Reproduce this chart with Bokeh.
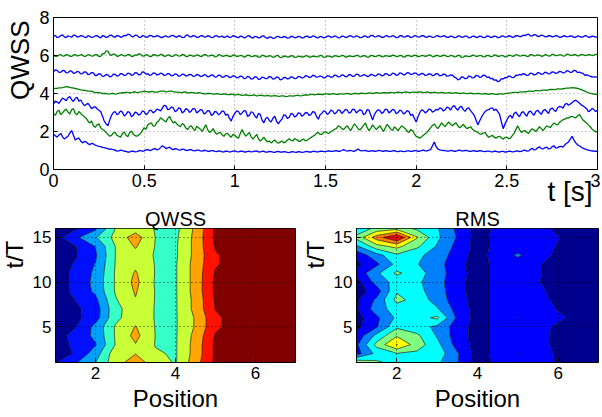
import numpy as np
from bokeh.plotting import figure
from bokeh.layouts import column, row
from bokeh.models import Range1d, FixedTicker, Title
from bokeh.embed import file_html
from bokeh.resources import INLINE

FONT = "Liberation Sans"

# ---------------- top panel data (sampled every 0.01 s from 0 to 3 s) ----------------
T_START, T_END = 0.0, 3.0

line1 = [1.85, 1.78, 1.70, 1.82, 1.90, 1.72, 1.60, 1.68, 1.75, 1.92, 2.05, 1.80, 1.55, 1.62, 1.65, 1.50, 1.40, 1.48, 1.45, 1.36,
         1.30, 1.38, 1.35, 1.28, 1.25, 1.22, 1.20, 1.16, 1.15, 1.12, 1.10, 1.06, 1.08, 1.04, 1.02, 0.97, 0.98, 1.02, 1.00, 0.96,
         0.95, 0.91, 0.92, 0.96, 0.97, 0.93, 0.94, 0.98, 1.00, 0.96, 0.98, 1.03, 1.05, 1.00, 1.02, 1.08, 1.10, 1.04, 1.06, 1.15,
         1.25, 1.18, 1.10, 1.14, 1.18, 1.08, 1.05, 1.10, 1.08, 1.03, 1.02, 1.07, 1.06, 1.01, 1.00, 1.05, 1.04, 0.99, 0.98, 1.02,
         1.02, 0.98, 0.97, 1.01, 1.00, 0.96, 0.95, 0.99, 0.99, 0.95, 0.94, 0.98, 0.97, 0.93, 0.93, 0.97, 0.96, 0.92, 0.94, 0.97,
         0.98, 0.94, 0.93, 0.96, 0.97, 0.93, 0.92, 0.95, 0.96, 0.93, 0.94, 0.97, 0.98, 0.93, 0.92, 0.96, 0.95, 0.91, 0.91, 0.95,
         0.94, 0.91, 0.90, 0.94, 0.95, 0.92, 0.91, 0.94, 0.93, 0.90, 0.89, 0.93, 0.94, 0.91, 0.90, 0.94, 0.93, 0.90, 0.91, 0.94,
         0.95, 0.92, 0.92, 0.95, 0.96, 0.93, 0.93, 0.96, 0.97, 0.94, 0.94, 0.97, 0.98, 0.95, 0.95, 0.98, 0.99, 0.96, 0.96, 1.00,
         1.05, 1.00, 0.97, 0.99, 1.00, 0.97, 0.96, 1.02, 1.08, 1.01, 0.98, 0.99, 1.01, 0.97, 0.95, 0.98, 0.99, 0.96, 0.97, 0.99,
         1.00, 0.97, 0.96, 0.99, 0.98, 0.95, 0.95, 0.98, 0.99, 0.95, 0.94, 0.97, 0.97, 0.94, 0.95, 0.98, 0.98, 0.95, 0.96, 0.99,
         0.99, 0.96, 0.96, 1.00, 1.02, 0.98, 0.98, 1.02, 1.05, 1.25, 1.45, 1.20, 1.08, 1.03, 1.02, 0.99, 1.00, 0.97, 0.97, 1.00,
         0.99, 0.96, 0.96, 1.00, 1.02, 0.98, 0.98, 1.01, 1.00, 0.96, 0.95, 0.98, 0.99, 0.95, 0.96, 0.99, 0.98, 0.95, 0.94, 0.97,
         0.97, 0.94, 0.93, 0.96, 0.96, 0.93, 0.92, 0.95, 0.95, 0.92, 0.93, 0.96, 0.96, 0.93, 0.94, 0.97, 0.98, 0.94, 0.95, 1.00,
         1.02, 0.97, 0.98, 1.06, 1.12, 1.03, 1.05, 1.14, 1.20, 1.10, 1.08, 1.15, 1.18, 1.08, 1.10, 1.20, 1.25, 1.12, 1.15, 1.20,
         1.22, 1.18, 1.30, 1.38, 1.45, 1.60, 1.75, 1.55, 1.40, 1.30, 1.25, 1.18, 1.12, 1.08, 1.05, 1.02, 1.00, 0.97, 0.98, 0.95,
         0.96]

line2 = [2.95, 2.85, 3.05, 3.12, 2.90, 2.98, 3.10, 3.18, 3.02, 2.92, 3.15, 3.20, 2.95, 2.88, 3.05, 2.95, 2.85, 2.78, 2.70, 2.55,
         2.45, 2.55, 2.30, 2.22, 2.35, 2.40, 2.20, 2.12, 2.05, 1.95, 1.85, 1.75, 1.80, 1.92, 1.95, 1.80, 1.75, 1.70, 1.90, 1.98,
         1.80, 1.72, 1.95, 2.02, 1.85, 1.78, 1.75, 1.82, 1.90, 2.05, 2.20, 2.12, 2.35, 2.42, 2.45, 2.28, 2.30, 2.48, 2.55, 2.72,
         2.65, 2.58, 2.50, 2.68, 2.80, 2.60, 2.45, 2.52, 2.40, 2.32, 2.25, 2.42, 2.35, 2.18, 2.10, 2.25, 2.30, 2.15, 2.05, 2.28,
         2.20, 2.12, 2.00, 2.18, 2.35, 2.10, 1.95, 2.02, 2.15, 1.98, 1.85, 1.92, 1.95, 1.82, 1.75, 1.88, 1.90, 1.78, 1.70, 1.85,
         1.80, 1.70, 1.65, 1.90, 2.10, 1.90, 1.75, 1.85, 1.95, 1.72, 1.60, 1.72, 1.85, 1.62, 1.50, 1.58, 1.70, 1.55, 1.45, 1.50,
         1.40, 1.48, 1.55, 1.45, 1.38, 1.44, 1.50, 1.40, 1.45, 1.55, 1.62, 1.54, 1.50, 1.62, 1.58, 1.50, 1.48, 1.56, 1.60, 1.50,
         1.55, 1.62, 1.68, 1.75, 1.80, 1.90, 1.95, 1.85, 1.85, 1.95, 2.00, 1.92, 1.90, 2.00, 2.05, 2.12, 2.15, 2.30, 2.25, 2.15,
         2.10, 2.22, 2.30, 2.15, 2.05, 2.25, 2.40, 2.28, 2.15, 2.08, 2.20, 2.32, 2.45, 2.20, 2.05, 2.18, 2.35, 2.22, 2.10, 2.20,
         2.30, 2.15, 2.00, 2.20, 2.38, 2.25, 2.12, 2.05, 2.25, 2.15, 2.05, 2.18, 2.30, 2.22, 2.15, 2.02, 1.95, 2.10, 2.05, 1.88,
         1.75, 1.70, 1.65, 1.72, 1.80, 1.88, 1.95, 2.08, 2.20, 2.32, 2.40, 2.25, 2.15, 2.30, 2.45, 2.35, 2.25, 2.40, 2.50, 2.38,
         2.30, 2.40, 2.45, 2.30, 2.20, 2.28, 2.38, 2.25, 2.15, 2.20, 2.25, 2.12, 2.05, 2.00, 1.95, 1.88, 1.85, 1.92, 1.95, 1.80,
         1.70, 1.75, 1.80, 1.70, 1.65, 1.72, 1.75, 1.66, 1.60, 1.68, 1.70, 1.62, 1.65, 1.78, 1.90, 2.10, 2.30, 2.10, 1.95, 2.02,
         2.05, 1.95, 1.90, 2.05, 2.15, 2.08, 2.00, 2.12, 2.25, 2.15, 2.05, 2.18, 2.30, 2.25, 2.20, 2.35, 2.45, 2.38, 2.35, 2.48,
         2.55, 2.62, 2.65, 2.72, 2.70, 2.78, 2.80, 2.75, 2.72, 2.82, 2.90, 2.75, 2.60, 2.52, 2.45, 2.35, 2.25, 2.12, 2.05, 1.98,
         2.00]

line3 = [3.45, 3.60, 3.55, 3.48, 3.62, 3.76, 3.70, 3.62, 3.78, 3.84, 3.68, 3.58, 3.75, 3.80, 3.60, 3.66, 3.50, 3.36, 3.42, 3.48,
         3.35, 3.20, 3.28, 3.30, 3.20, 3.12, 3.05, 2.80, 2.55, 2.40, 2.30, 2.60, 2.85, 3.00, 3.05, 2.88, 2.95, 3.08, 3.02, 2.82,
         2.90, 3.05, 3.00, 2.78, 2.85, 3.02, 2.98, 2.86, 2.92, 3.08, 3.05, 2.88, 2.96, 3.12, 3.10, 2.98, 3.05, 3.18, 3.15, 3.08,
         3.22, 3.38, 3.35, 3.15, 3.18, 3.30, 3.25, 3.05, 3.10, 3.24, 3.20, 2.98, 3.05, 3.20, 3.15, 3.00, 3.08, 3.22, 3.18, 2.98,
         3.05, 3.15, 3.12, 2.92, 2.98, 3.10, 3.08, 2.85, 2.90, 3.06, 3.02, 2.88, 2.95, 3.08, 3.05, 2.85, 2.92, 2.70, 2.55, 2.80,
         2.95, 3.08, 3.05, 2.88, 2.98, 3.10, 3.08, 2.80, 2.85, 3.04, 3.00, 2.82, 2.70, 2.95, 2.90, 2.60, 2.45, 2.68, 2.75, 2.58,
         2.50, 2.70, 2.80, 2.55, 2.40, 2.55, 2.65, 2.88, 2.85, 2.68, 2.75, 2.95, 2.92, 2.76, 2.82, 2.98, 2.95, 2.80, 2.88, 3.00,
         2.98, 2.84, 2.90, 3.05, 3.02, 2.80, 2.65, 2.88, 2.95, 3.08, 3.05, 2.90, 2.98, 3.12, 3.08, 2.92, 3.00, 3.14, 3.10, 2.95,
         3.05, 3.16, 3.12, 2.96, 3.02, 3.18, 3.15, 2.98, 3.06, 3.14, 3.10, 2.88, 2.95, 3.15, 3.12, 2.85, 2.60, 2.90, 3.05, 3.14,
         3.10, 2.95, 3.02, 3.18, 3.15, 2.98, 3.05, 3.16, 3.12, 2.94, 3.00, 3.12, 3.08, 2.92, 2.98, 3.10, 3.05, 2.85, 2.90, 2.70,
         2.50, 2.78, 3.00, 3.14, 3.10, 2.98, 3.05, 3.18, 3.15, 3.02, 3.08, 3.16, 3.12, 3.24, 3.20, 3.08, 3.15, 3.28, 3.25, 3.12,
         3.30, 3.36, 3.22, 3.12, 3.28, 3.32, 3.15, 3.06, 3.20, 3.25, 3.10, 2.98, 2.85, 2.60, 2.35, 2.55, 2.75, 2.92, 3.05, 3.12,
         3.15, 3.22, 3.25, 3.10, 3.18, 3.05, 2.90, 2.50, 2.15, 2.40, 2.60, 2.78, 2.85, 2.70, 2.95, 3.02, 2.88, 2.78, 2.98, 3.05,
         2.92, 2.80, 3.02, 3.08, 2.95, 2.86, 3.05, 3.12, 3.00, 2.90, 3.10, 3.16, 3.05, 2.95, 3.18, 3.24, 3.12, 3.05, 3.25, 3.32,
         3.30, 3.22, 3.42, 3.48, 3.38, 3.45, 3.52, 3.60, 3.65, 3.58, 3.50, 3.40, 3.35, 3.28, 3.20, 3.05, 3.10, 3.22, 3.15, 3.05,
         3.12]

line4 = [4.24, 4.27, 4.27, 4.30, 4.30, 4.31, 4.33, 4.36, 4.35, 4.32, 4.30, 4.29, 4.26, 4.25, 4.22, 4.19, 4.18, 4.17, 4.15, 4.12,
         4.12, 4.11, 4.08, 4.05, 4.05, 4.05, 4.03, 4.00, 4.00, 4.00, 3.98, 3.97, 4.00, 4.00, 3.97, 3.98, 4.02, 4.02, 4.04, 4.04,
         4.06, 4.06, 4.03, 4.04, 4.08, 4.08, 4.05, 4.06, 4.09, 4.10, 4.12, 4.11, 4.08, 4.08, 4.11, 4.10, 4.07, 4.07, 4.10, 4.12,
         4.12, 4.12, 4.09, 4.10, 4.13, 4.13, 4.10, 4.08, 4.07, 4.07, 4.05, 4.05, 4.08, 4.07, 4.03, 4.03, 4.06, 4.05, 4.02, 4.02,
         4.04, 4.03, 4.00, 3.98, 3.98, 4.00, 4.01, 3.99, 3.97, 3.97, 3.99, 3.98, 3.95, 3.95, 3.98, 3.97, 3.94, 3.94, 3.96, 3.95,
         3.92, 3.94, 3.95, 3.93, 3.90, 3.91, 3.93, 3.92, 3.89, 3.90, 3.92, 3.91, 3.88, 3.89, 3.91, 3.90, 3.87, 3.88, 3.90, 3.88,
         3.86, 3.88, 3.89, 3.87, 3.85, 3.86, 3.88, 3.87, 3.84, 3.85, 3.87, 3.87, 3.86, 3.88, 3.90, 3.90, 3.88, 3.89, 3.92, 3.92,
         3.91, 3.93, 3.95, 3.95, 3.93, 3.95, 3.97, 3.96, 3.94, 3.96, 3.98, 3.98, 3.96, 3.97, 3.99, 3.98, 3.95, 3.96, 3.98, 3.98,
         3.97, 3.99, 4.00, 3.98, 3.96, 3.98, 4.01, 4.00, 3.98, 4.00, 4.02, 4.01, 3.99, 4.01, 4.03, 4.02, 4.00, 4.02, 4.04, 4.03,
         4.01, 4.03, 4.05, 4.04, 4.02, 4.04, 4.06, 4.05, 4.03, 4.05, 4.07, 4.06, 4.04, 4.06, 4.08, 4.07, 4.05, 4.06, 4.07, 4.07,
         4.06, 4.08, 4.09, 4.07, 4.05, 4.06, 4.08, 4.06, 4.04, 4.05, 4.07, 4.05, 4.03, 4.04, 4.06, 4.04, 4.02, 4.03, 4.05, 4.03,
         4.01, 4.03, 4.04, 4.02, 4.00, 4.01, 4.03, 4.01, 3.99, 4.00, 4.02, 4.00, 3.98, 3.99, 4.01, 3.99, 3.97, 3.98, 4.00, 3.98,
         3.96, 3.98, 3.99, 3.97, 3.95, 3.96, 3.98, 3.98, 3.97, 3.99, 4.01, 4.02, 4.03, 4.05, 4.06, 4.06, 4.05, 4.07, 4.09, 4.09,
         4.08, 4.10, 4.12, 4.12, 4.11, 4.13, 4.15, 4.15, 4.14, 4.16, 4.18, 4.18, 4.17, 4.19, 4.21, 4.21, 4.20, 4.22, 4.24, 4.24,
         4.23, 4.25, 4.27, 4.28, 4.28, 4.30, 4.31, 4.30, 4.29, 4.27, 4.24, 4.20, 4.16, 4.12, 4.08, 4.04, 4.01, 3.99, 3.97, 3.96,
         3.95]

line5 = [5.15, 5.24, 5.22, 5.11, 5.12, 5.21, 5.20, 5.09, 5.10, 5.19, 5.18, 5.06, 5.08, 5.16, 5.14, 5.03, 5.05, 5.14, 5.12, 5.00,
         5.02, 5.10, 5.08, 4.94, 4.96, 5.04, 5.02, 4.90, 4.92, 5.00, 4.98, 4.88, 4.90, 5.02, 5.00, 4.92, 4.94, 5.05, 5.03, 4.95,
         4.97, 5.07, 5.05, 4.96, 4.98, 5.10, 5.08, 4.98, 5.00, 5.14, 5.12, 5.02, 5.04, 4.96, 4.98, 5.08, 5.06, 4.98, 5.00, 5.07,
         5.05, 4.95, 4.97, 5.05, 5.03, 4.93, 4.95, 5.03, 5.01, 4.91, 4.93, 5.02, 5.00, 4.92, 4.94, 5.01, 4.99, 4.90, 4.92, 5.00,
         4.98, 4.89, 4.91, 4.99, 4.97, 4.88, 4.90, 4.98, 4.96, 4.86, 4.88, 4.97, 4.95, 4.85, 4.87, 4.95, 4.93, 4.84, 4.86, 4.94,
         4.92, 4.82, 4.84, 4.92, 4.90, 4.78, 4.80, 4.90, 4.88, 4.76, 4.78, 4.88, 4.86, 4.74, 4.76, 4.86, 4.84, 4.78, 4.80, 4.89,
         4.87, 4.76, 4.78, 4.87, 4.85, 4.72, 4.74, 4.85, 4.83, 4.77, 4.79, 4.88, 4.86, 4.78, 4.80, 4.90, 4.88, 4.82, 4.84, 4.94,
         4.92, 4.84, 4.86, 4.96, 4.94, 4.86, 4.88, 4.92, 4.90, 4.82, 4.84, 4.94, 4.92, 4.85, 4.87, 4.97, 4.95, 4.87, 4.89, 4.98,
         4.96, 4.88, 4.90, 5.00, 4.98, 4.90, 4.92, 5.02, 5.00, 4.91, 4.93, 4.99, 4.97, 4.89, 4.91, 5.01, 4.99, 4.92, 4.94, 5.03,
         5.01, 4.93, 4.95, 5.05, 5.03, 4.95, 4.97, 5.07, 5.05, 4.96, 4.98, 5.08, 5.06, 4.98, 5.00, 5.10, 5.08, 5.00, 5.02, 5.08,
         5.06, 4.97, 4.99, 5.06, 5.04, 4.95, 4.97, 5.04, 5.02, 4.94, 4.96, 5.05, 5.03, 4.93, 4.95, 5.02, 5.00, 4.91, 4.93, 4.98,
         4.96, 4.86, 4.82, 4.72, 4.75, 4.88, 4.86, 4.78, 4.80, 4.92, 4.90, 4.82, 4.84, 4.95, 4.93, 4.85, 4.87, 4.97, 4.95, 4.85,
         4.88, 4.78, 4.80, 4.70, 4.72, 4.62, 4.65, 4.78, 4.76, 4.84, 4.82, 4.92, 4.90, 4.83, 4.85, 4.97, 4.95, 5.00, 4.98, 5.04,
         5.02, 4.95, 4.97, 5.07, 5.05, 4.98, 5.00, 5.10, 5.08, 5.01, 5.03, 5.12, 5.10, 5.03, 5.05, 5.14, 5.12, 5.06, 5.08, 5.17,
         5.15, 5.08, 5.10, 5.20, 5.18, 5.11, 5.13, 5.22, 5.20, 5.10, 5.12, 5.08, 5.06, 4.96, 4.98, 4.94, 4.92, 4.86, 4.88, 4.87,
         4.85]

line6 = [6.02, 5.95, 5.96, 6.03, 6.04, 5.97, 5.98, 6.05, 6.03, 5.96, 5.95, 6.03, 6.05, 5.98, 5.99, 6.04, 6.02, 5.95, 5.97, 6.04,
         6.03, 5.97, 5.98, 6.05, 6.04, 5.95, 5.96, 6.10, 6.08, 6.25, 6.22, 6.05, 6.01, 6.08, 6.06, 5.96, 5.97, 6.04, 6.03, 5.97,
         5.99, 6.05, 6.04, 5.95, 5.96, 6.03, 6.02, 6.08, 6.07, 5.97, 5.98, 6.04, 6.03, 5.94, 5.95, 6.05, 6.04, 5.98, 5.99, 6.06,
         6.05, 5.96, 5.97, 6.03, 6.02, 5.95, 5.96, 6.04, 6.03, 5.97, 5.98, 6.05, 6.04, 5.94, 5.95, 6.02, 6.01, 5.96, 5.97, 6.03,
         6.02, 5.95, 5.96, 6.05, 6.04, 5.97, 5.98, 6.02, 6.01, 5.93, 5.94, 6.04, 6.03, 5.96, 5.97, 6.01, 6.00, 5.94, 5.95, 6.03,
         6.02, 5.95, 5.96, 6.00, 5.99, 5.92, 5.93, 6.02, 6.01, 5.94, 5.95, 5.99, 5.98, 5.91, 5.92, 6.01, 6.00, 5.93, 5.94, 5.99,
         5.97, 5.91, 5.92, 6.00, 5.99, 5.89, 5.90, 5.97, 5.96, 5.92, 5.93, 5.99, 5.98, 5.90, 5.91, 5.96, 5.95, 5.92, 5.93, 5.99,
         5.98, 5.91, 5.92, 5.97, 5.96, 5.93, 5.94, 6.00, 5.99, 5.90, 5.91, 5.98, 5.97, 5.92, 5.93, 5.99, 5.98, 5.94, 5.95, 6.00,
         5.99, 5.92, 5.93, 5.98, 5.97, 5.94, 5.95, 6.01, 6.00, 5.93, 5.94, 5.99, 5.98, 5.91, 5.92, 6.00, 5.99, 5.94, 5.95, 6.01,
         6.00, 5.93, 5.94, 5.99, 5.98, 5.95, 5.96, 6.02, 6.01, 5.94, 5.95, 6.00, 5.99, 5.92, 5.93, 6.01, 6.00, 5.95, 5.96, 6.02,
         6.01, 5.94, 5.95, 6.00, 5.99, 5.96, 5.97, 6.03, 6.02, 5.93, 5.94, 6.01, 6.00, 5.95, 5.96, 6.02, 6.01, 5.94, 5.95, 6.00,
         5.99, 5.93, 5.94, 6.01, 6.00, 5.90, 5.91, 5.98, 5.97, 5.94, 5.95, 6.02, 6.01, 5.95, 5.96, 6.00, 5.99, 5.93, 5.94, 6.01,
         6.00, 5.94, 5.95, 6.03, 6.02, 5.95, 5.96, 6.00, 5.99, 5.93, 5.94, 6.02, 6.01, 5.96, 5.97, 6.04, 6.03, 5.97, 5.98, 6.02,
         6.01, 5.95, 5.96, 6.05, 6.04, 5.98, 5.99, 6.03, 6.02, 5.96, 5.97, 6.04, 6.03, 5.97, 5.98, 6.06, 6.05, 5.99, 6.00, 6.04,
         6.03, 5.97, 5.98, 6.07, 6.06, 6.00, 6.01, 6.05, 6.04, 5.98, 5.99, 6.06, 6.05, 6.00, 6.01, 6.05, 6.04, 6.00, 6.02, 6.06,
         6.05]

line7 = [7.02, 7.06, 6.95, 6.97, 7.05, 7.08, 6.98, 6.94, 7.04, 7.00, 6.96, 7.07, 7.06, 6.97, 6.99, 7.05, 7.03, 6.97, 6.94, 7.04,
         7.01, 6.95, 6.97, 7.03, 7.05, 6.98, 6.93, 7.04, 7.02, 6.95, 6.98, 7.06, 7.07, 6.99, 6.96, 7.05, 7.03, 6.96, 6.99, 7.06,
         7.04, 7.12, 7.10, 7.01, 6.98, 7.07, 7.06, 6.97, 6.95, 7.04, 7.03, 6.96, 6.97, 7.06, 7.05, 6.98, 6.99, 7.05, 7.02, 6.96,
         6.94, 7.01, 7.03, 6.97, 6.98, 7.05, 7.06, 6.99, 6.96, 7.04, 7.02, 6.94, 6.95, 7.06, 7.08, 6.99, 6.98, 7.05, 7.03, 6.95,
         6.96, 7.03, 7.05, 6.98, 6.97, 7.04, 7.02, 6.95, 6.94, 7.03, 7.04, 6.97, 6.99, 7.02, 6.95, 6.98, 7.03, 6.95, 6.97, 7.04,
         7.02, 6.96, 6.94, 7.02, 7.00, 6.93, 6.96, 7.03, 7.04, 6.95, 6.92, 7.00, 6.99, 6.93, 6.95, 7.02, 7.03, 6.94, 6.90, 6.98,
         6.97, 6.90, 6.92, 6.99, 7.01, 6.95, 6.94, 7.00, 6.98, 6.91, 6.93, 7.01, 7.00, 6.93, 6.95, 7.01, 6.99, 6.92, 6.94, 7.01,
         7.02, 6.95, 6.96, 7.03, 7.01, 6.94, 6.93, 7.00, 6.99, 6.93, 6.95, 7.02, 7.03, 6.96, 6.97, 7.03, 7.00, 6.93, 6.94, 7.02,
         7.01, 6.95, 6.96, 7.03, 7.04, 6.97, 6.98, 7.03, 7.00, 6.94, 6.95, 7.02, 7.03, 6.96, 6.97, 7.05, 7.06, 6.98, 6.99, 7.04,
         7.02, 6.95, 6.96, 7.03, 7.04, 6.98, 6.99, 7.04, 7.01, 6.94, 6.95, 7.04, 7.05, 6.97, 6.98, 7.04, 7.02, 6.95, 6.97, 7.04,
         7.03, 6.97, 6.98, 7.04, 7.05, 6.97, 6.96, 7.02, 7.01, 6.95, 6.97, 7.03, 7.04, 6.98, 6.99, 7.04, 7.02, 6.95, 6.96, 7.02,
         7.00, 6.94, 6.95, 7.02, 7.03, 6.96, 6.97, 7.03, 7.01, 6.93, 6.94, 7.01, 7.02, 6.95, 6.96, 7.02, 7.00, 6.94, 6.95, 7.03,
         7.02, 6.95, 6.96, 7.02, 7.01, 6.94, 6.95, 7.02, 7.03, 6.97, 6.98, 7.04, 7.02, 6.96, 6.97, 7.05, 7.04, 6.99, 7.00, 7.07,
         7.05, 7.10, 7.12, 7.04, 7.03, 7.10, 7.08, 7.00, 7.01, 7.07, 7.05, 6.99, 6.98, 7.05, 7.04, 6.98, 7.00, 7.05, 7.03, 6.96,
         6.97, 7.02, 7.04, 6.98, 6.99, 7.03, 7.02, 6.95, 6.96, 7.03, 7.01, 6.96, 6.98, 7.04, 7.03, 6.96, 6.97, 7.02, 7.01, 6.96,
         6.99]

SERIES = [line1, line2, line3, line4, line5, line6, line7]
SERIES_COLORS = ["#0000FF", "#008000", "#0000FF", "#008000", "#0000FF", "#008000", "#0000FF"]

X_TICKS = [0, 0.5, 1, 1.5, 2, 2.5, 3]
X_TICK_LABELS = ["0", "0.5", "1", "1.5", "2", "2.5", "3"]
Y_TICKS = [0, 2, 4, 6, 8]

# ---------------- contour data ----------------
POS = [1.0, 1.5, 2.0, 2.5, 3.0, 3.5, 4.0, 4.5, 5.0, 5.5, 6.0, 6.5, 7.0]
TT = [1, 2, 3, 4, 5, 6, 7, 8, 9, 10, 11, 12, 13, 14, 15, 16]

QWSS_Z = [
    [0.95, 1.9, 3.0, 4.6, 5.5, 4.5, 3.9, 5.6, 7.2, 7.6, 7.8, 7.9, 8.0],
    [0.5, 1.1, 2.5, 4.6, 4.97, 4.1, 3.9, 5.4, 7.2, 7.6, 7.8, 7.9, 8.0],
    [0.5, 1.25, 1.95, 4.05, 4.95, 3.95, 3.9, 5.4, 7.2, 7.6, 7.8, 7.9, 8.0],
    [0.5, 1.4, 2.2, 4.1, 5.3, 3.98, 3.9, 5.3, 7.1, 7.6, 7.8, 7.9, 8.0],
    [0.45, 0.95, 2.3, 4.1, 5.05, 3.95, 3.9, 5.1, 6.8, 7.4, 7.7, 7.9, 8.0],
    [0.4, 0.75, 1.55, 3.75, 4.6, 3.95, 3.9, 5.1, 6.8, 7.4, 7.7, 7.9, 8.0],
    [0.45, 0.8, 1.5, 3.7, 4.6, 3.95, 3.9, 5.3, 7.05, 7.5, 7.8, 7.9, 8.0],
    [0.5, 1.02, 1.75, 3.9, 4.95, 3.95, 3.9, 5.3, 7.1, 7.6, 7.8, 7.9, 8.0],
    [0.5, 1.25, 2.2, 4.1, 5.1, 3.95, 3.9, 5.4, 7.2, 7.6, 7.8, 7.9, 8.0],
    [0.5, 1.2, 2.3, 4.1, 5.25, 3.9, 3.9, 5.4, 7.2, 7.6, 7.8, 7.9, 8.0],
    [0.5, 1.25, 2.2, 4.1, 5.1, 3.95, 3.9, 5.4, 7.1, 7.6, 7.8, 7.9, 8.0],
    [0.5, 1.1, 2.05, 4.05, 4.8, 3.95, 3.9, 5.4, 6.9, 7.4, 7.7, 7.9, 8.0],
    [0.45, 0.9, 1.85, 4.02, 4.7, 3.9, 3.85, 5.3, 6.9, 7.4, 7.7, 7.9, 8.0],
    [0.5, 0.95, 2.05, 4.02, 5.1, 3.95, 3.85, 5.3, 7.1, 7.6, 7.8, 7.9, 8.0],
    [0.6, 1.8, 2.9, 4.3, 5.5, 3.98, 3.8, 5.3, 7.2, 7.6, 7.8, 7.9, 8.0],
    [0.4, 0.85, 1.8, 4.02, 4.5, 3.95, 3.7, 5.2, 7.2, 7.6, 7.8, 7.9, 8.0],
]
QWSS_LEVELS = [0, 1, 2, 3, 4, 5, 6, 7, 9]
JET8 = ["#00008F", "#0010FF", "#00A0FF", "#36FFC8", "#C8FF36", "#FFA400", "#FF1200", "#800000"]

RMS_Z = [
    [4.8, 4.2, 3.6, 3.4, 3.2, 2.05, 0.6, 1.2, 1.4, 1.3, 0.95, 0.6, 0.5],
    [1.6, 3.3, 3.95, 3.8, 3.6, 2.1, 0.6, 1.3, 2.03, 1.3, 0.9, 0.6, 0.5],
    [1.8, 4.3, 6.05, 4.5, 3.3, 1.6, 0.6, 1.3, 1.5, 1.3, 0.8, 0.55, 0.5],
    [1.3, 3.3, 4.9, 4.2, 2.9, 1.5, 0.6, 1.3, 1.5, 1.3, 0.8, 0.55, 0.5],
    [0.7, 1.9, 3.8, 3.4, 2.8, 1.5, 0.6, 1.3, 1.5, 1.3, 0.85, 0.6, 0.5],
    [0.6, 1.8, 3.2, 3.6, 4.2, 1.8, 0.6, 1.3, 2.02, 1.5, 1.2, 0.7, 0.5],
    [0.9, 2.5, 3.5, 3.3, 3.1, 1.6, 0.6, 1.3, 1.5, 1.4, 0.95, 0.6, 0.5],
    [0.8, 2.2, 4.3, 3.6, 2.6, 1.4, 0.6, 1.3, 1.5, 1.3, 0.8, 0.55, 0.5],
    [0.5, 1.5, 3.9, 3.3, 2.5, 1.3, 0.6, 1.3, 1.5, 1.2, 0.7, 0.5, 0.45],
    [0.6, 2.4, 3.4, 3.2, 2.4, 1.3, 0.6, 1.3, 1.5, 1.05, 0.6, 0.5, 0.45],
    [1.3, 2.8, 4.2, 3.4, 2.5, 1.4, 0.6, 1.3, 1.5, 1.1, 0.6, 0.5, 0.45],
    [0.7, 1.8, 3.3, 3.05, 2.4, 1.3, 0.6, 1.3, 1.5, 1.1, 0.6, 0.5, 0.45],
    [1.3, 2.6, 3.8, 3.2, 2.6, 1.5, 0.6, 1.4, 2.15, 1.4, 0.8, 0.55, 0.5],
    [2.8, 4.6, 5.3, 4.2, 2.9, 1.7, 0.6, 1.3, 1.5, 1.3, 0.95, 0.6, 0.5],
    [4.3, 6.5, 8.1, 5.1, 3.2, 1.9, 0.6, 1.3, 1.5, 1.3, 1.05, 0.6, 0.5],
    [3.2, 4.3, 4.6, 3.8, 3.1, 1.8, 0.6, 1.2, 1.4, 1.3, 0.8, 0.6, 0.5],
]
RMS_LEVELS = [0, 1, 2, 3, 4, 5, 6, 7, 8, 9]
JET9 = ["#00008F", "#0000FF", "#0080FF", "#00FFFF", "#80FF80", "#FFFF00", "#FF8000", "#FF0000", "#800000"]

POS_TICKS = [2, 4, 6]
TT_TICKS = [5, 10, 15]


def style_axes(p, tick_size):
    for ax in (p.xaxis[0], p.yaxis[0]):
        ax.major_label_text_font = FONT
        ax.major_label_text_font_size = tick_size
        ax.major_label_text_color = "black"
        ax.axis_line_color = "black"
        ax.major_tick_line_color = "black"
        ax.major_tick_in = 4
        ax.major_tick_out = 0
        ax.minor_tick_line_color = None
    p.xaxis.major_label_standoff = 4
    p.yaxis.major_label_standoff = 4
    p.outline_line_color = "black"
    p.outline_line_alpha = 1.0


def side_title(p, text, side, size, align, valign, offset, standoff):
    p.add_layout(Title(text=text, align=align, vertical_align=valign, offset=offset, standoff=standoff,
                       text_font=FONT, text_font_size=size, text_font_style="normal",
                       text_color="black"), side)


# ---------------- top figure (canvas origin at page 0,0) ----------------
top = figure(width=600, height=209, output_backend="svg", toolbar_location=None,
             x_range=Range1d(0, 3), y_range=Range1d(0, 8),
             min_border_left=53, min_border_right=3, min_border_top=17, min_border_bottom=40)
for vals, col in zip(SERIES, SERIES_COLORS):
    tt = np.linspace(T_START, T_END, len(vals))
    top.line(tt, vals, line_color=col, line_width=1.3)
top.xaxis.ticker = FixedTicker(ticks=X_TICKS)
top.xaxis.major_label_overrides = {k: v for k, v in zip(X_TICKS, X_TICK_LABELS)}
top.yaxis.ticker = FixedTicker(ticks=Y_TICKS)
style_axes(top, "18px")
top.grid.grid_line_color = "#9a9a9a"
top.grid.grid_line_dash = "1 3"
top.grid.grid_line_alpha = 1.0
side_title(top, "QWSS", "left", "26px", "right", "top", 3, 0)
side_title(top, "t [s]", "below", "28px", "right", "top", 5, -28)


def contour_fig(z, levels, colors, title, bl, br):
    p = figure(width=300, height=208, output_backend="svg", toolbar_location=None,
               x_range=Range1d(1, 7), y_range=Range1d(1, 16),
               min_border_left=bl, min_border_right=br, min_border_top=19, min_border_bottom=55)
    p.contour(x=POS, y=TT, z=np.array(z), levels=levels, fill_color=colors,
              line_color="black", line_width=0.6)
    p.xaxis.ticker = FixedTicker(ticks=POS_TICKS)
    p.yaxis.ticker = FixedTicker(ticks=TT_TICKS)
    style_axes(p, "17px")
    p.xaxis.axis_label = "Position"
    p.xaxis.axis_label_text_font = FONT
    p.xaxis.axis_label_text_font_size = "24px"
    p.xaxis.axis_label_text_font_style = "normal"
    p.xaxis.axis_label_text_color = "black"
    p.xaxis.axis_label_standoff = 3
    p.grid.grid_line_color = "black"
    p.grid.grid_line_dash = "1 3"
    p.grid.grid_line_alpha = 0.8
    p.grid.level = "overlay"
    side_title(p, title, "above", "20px", "center", "top", 0, -6)
    side_title(p, "t/T", "left", "24px", "right", "top", 12, 0)
    return p


left = contour_fig(QWSS_Z, QWSS_LEVELS, JET8, "QWSS", 55, 5)
right = contour_fig(RMS_Z, RMS_LEVELS, JET9, "RMS", 56, 2)

layout = column(top, row(left, right))
open("out.html", "w").write(file_html(layout, INLINE))
